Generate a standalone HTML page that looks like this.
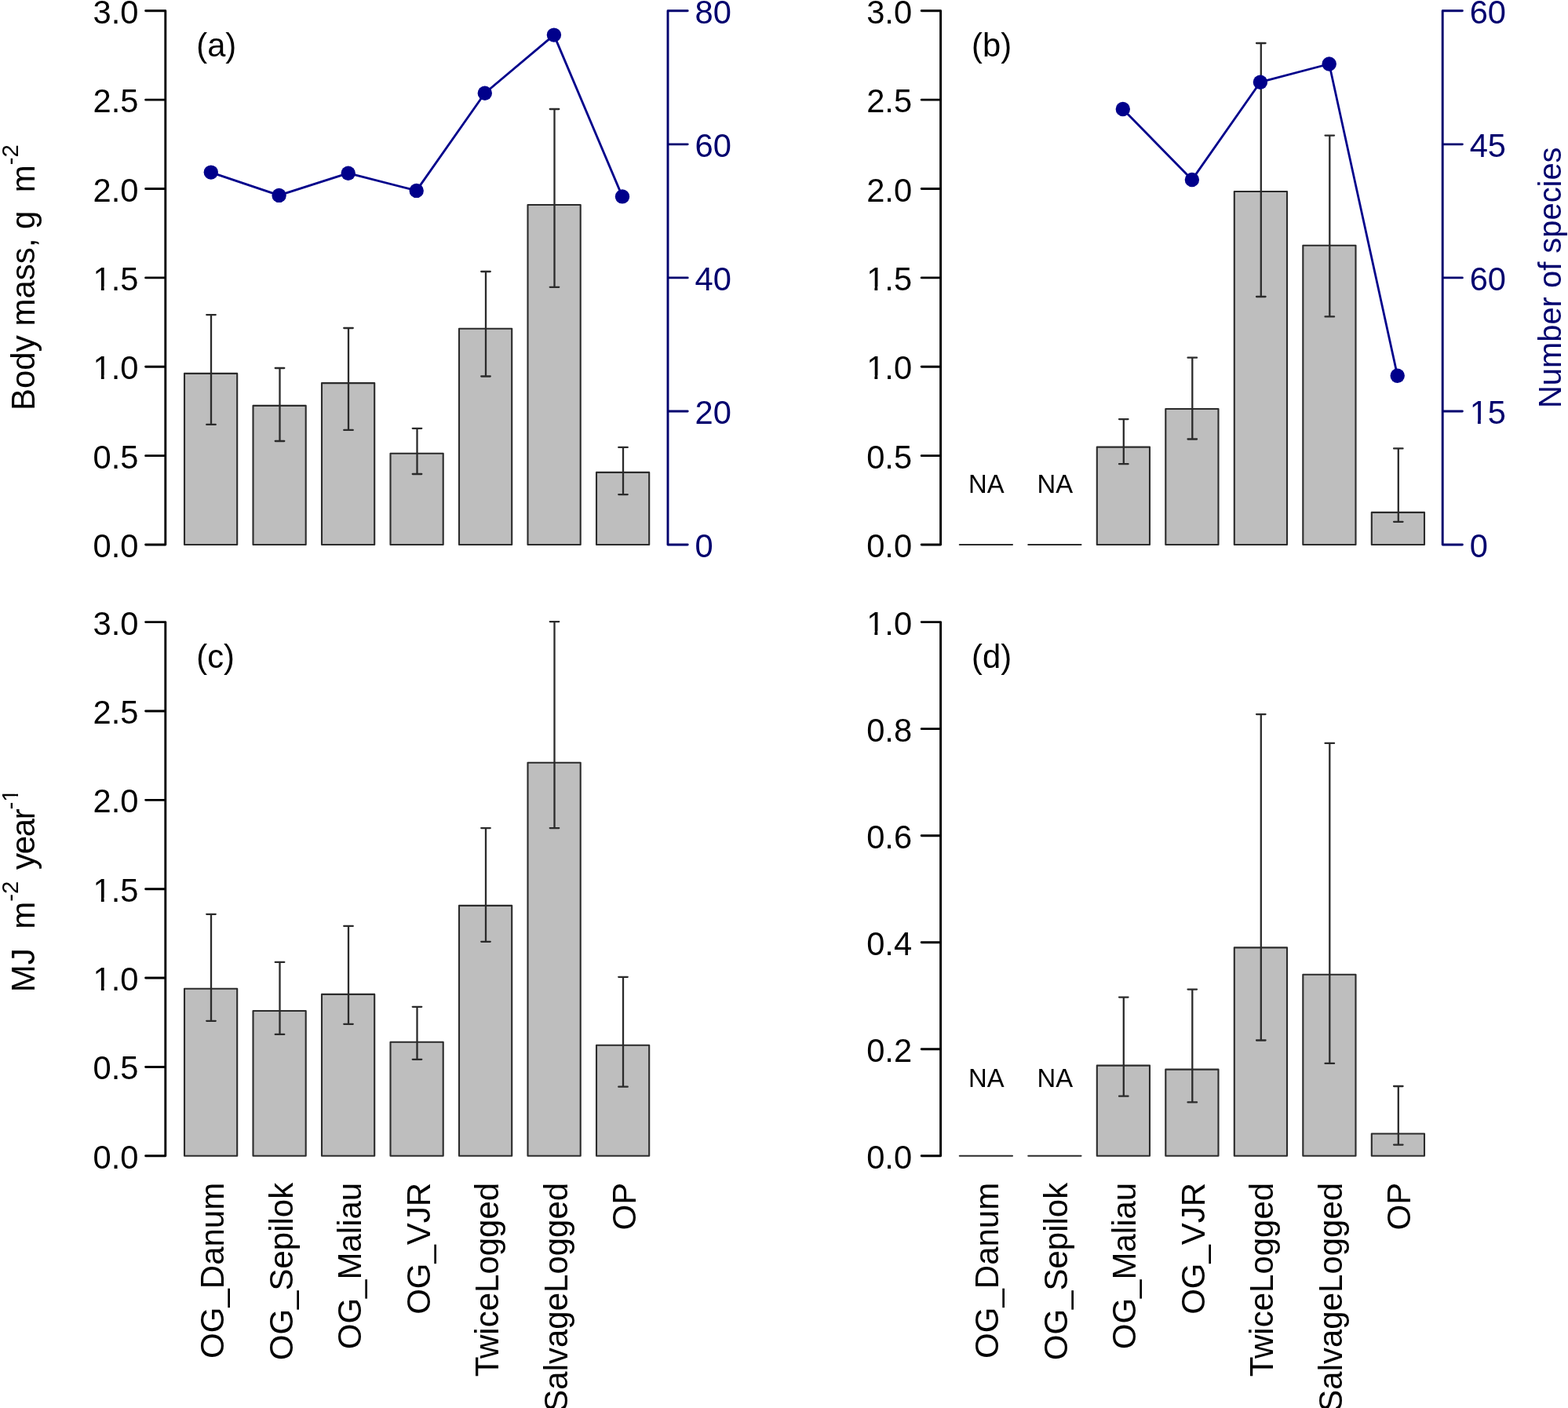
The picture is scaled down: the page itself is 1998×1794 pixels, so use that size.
<!DOCTYPE html><html><head><meta charset="utf-8"><title>Figure</title><style>
html,body{margin:0;padding:0;background:#fff;width:1998px;height:1794px;overflow:hidden}
svg{display:block}
text{font-family:"Liberation Sans",Arial,sans-serif;font-size:41.67px;fill:#000}
.nv{fill:#00006e}
.na{font-size:32.8px}
.bar{fill:#bebebe;stroke:#2b2b2b;stroke-width:2.1;stroke-linejoin:round}
.bs{fill:none;stroke:#2b2b2b;stroke-width:2.1;stroke-linecap:round}
.eb{fill:none;stroke:#2b2b2b;stroke-width:2.3;stroke-linecap:round}
.rl{font-size:42px}
.ax{fill:none;stroke:#000;stroke-width:2.9;stroke-linecap:round;stroke-linejoin:round}
.axn{fill:none;stroke:#00006e;stroke-width:2.9;stroke-linecap:round;stroke-linejoin:round}
.ln{fill:none;stroke:#00008b;stroke-width:2.8;stroke-linecap:round;stroke-linejoin:round}
.pt{fill:#00008b}
</style></head><body>
<svg width="1998" height="1794" viewBox="0 0 1998 1794">
<rect width="1998" height="1794" fill="#fff"/>
<rect x="235" y="475.9" width="67.2" height="218.1" class="bar"/>
<rect x="322.5" y="516.9" width="67.2" height="177.1" class="bar"/>
<rect x="410" y="488.1" width="67.2" height="205.9" class="bar"/>
<rect x="497.5" y="577.8" width="67.2" height="116.2" class="bar"/>
<rect x="585" y="418.8" width="67.2" height="275.2" class="bar"/>
<rect x="672.5" y="261" width="67.2" height="433" class="bar"/>
<rect x="760" y="601.9" width="67.2" height="92.1" class="bar"/>
<path d="M269 401.1V540.9M263.25 401.1H274.75M263.25 540.9H274.75" class="eb"/>
<path d="M356.5 469V562M350.75 469H362.25M350.75 562H362.25" class="eb"/>
<path d="M444 418V547.9M438.25 418H449.75M438.25 547.9H449.75" class="eb"/>
<path d="M531.5 545.8V604M525.75 545.8H537.25M525.75 604H537.25" class="eb"/>
<path d="M619 346V479.5M613.25 346H624.75M613.25 479.5H624.75" class="eb"/>
<path d="M706.5 139V365.8M700.75 139H712.25M700.75 365.8H712.25" class="eb"/>
<path d="M794 569.9V630.1M788.25 569.9H799.75M788.25 630.1H799.75" class="eb"/>
<path d="M268.8 219.6 L355.6 248.9 L443.7 220.7 L530.7 242.9 L617.8 118.7 L705.9 44.6 L793 250.4" class="ln"/>
<circle cx="268.8" cy="219.6" r="9.2" class="pt"/>
<circle cx="355.6" cy="248.9" r="9.2" class="pt"/>
<circle cx="443.7" cy="220.7" r="9.2" class="pt"/>
<circle cx="530.7" cy="242.9" r="9.2" class="pt"/>
<circle cx="617.8" cy="118.7" r="9.2" class="pt"/>
<circle cx="705.9" cy="44.6" r="9.2" class="pt"/>
<circle cx="793" cy="250.4" r="9.2" class="pt"/>
<path d="M210.8 694V13.8M185.6 694H210.8M185.6 580.63H210.8M185.6 467.27H210.8M185.6 353.9H210.8M185.6 240.53H210.8M185.6 127.17H210.8M185.6 13.8H210.8" class="ax"/>
<text x="176.5" y="710" text-anchor="end">0.0</text>
<text x="176.5" y="596.63" text-anchor="end">0.5</text>
<text x="176.5" y="483.27" text-anchor="end">1.0</text>
<text x="176.5" y="369.9" text-anchor="end">1.5</text>
<text x="176.5" y="256.53" text-anchor="end">2.0</text>
<text x="176.5" y="143.17" text-anchor="end">2.5</text>
<text x="176.5" y="29.8" text-anchor="end">3.0</text>
<path d="M851 694V13.8M851 694H876.2M851 523.95H876.2M851 353.9H876.2M851 183.85H876.2M851 13.8H876.2" class="axn"/>
<text x="885.5" y="710" class="nv">0</text>
<text x="885.5" y="539.95" class="nv">20</text>
<text x="885.5" y="369.9" class="nv">40</text>
<text x="885.5" y="199.85" class="nv">60</text>
<text x="885.5" y="29.8" class="nv">80</text>
<text x="250.3" y="72">(a)</text>
<text transform="translate(44.4 523) rotate(-90)" class="rl">Body mass, g<tspan dx="23.2">m</tspan><tspan dy="-21.7" style="font-size:29.4px">-2</tspan></text>
<line x1="1222.8" y1="694" x2="1290" y2="694" class="bs"/>
<line x1="1310.3" y1="694" x2="1377.5" y2="694" class="bs"/>
<rect x="1397.8" y="569.6" width="67.2" height="124.4" class="bar"/>
<rect x="1485.3" y="521" width="67.2" height="173" class="bar"/>
<rect x="1572.8" y="244" width="67.2" height="450" class="bar"/>
<rect x="1660.3" y="312.7" width="67.2" height="381.3" class="bar"/>
<rect x="1747.8" y="652.9" width="67.2" height="41.1" class="bar"/>
<path d="M1431.8 534.1V591.2M1426.05 534.1H1437.55M1426.05 591.2H1437.55" class="eb"/>
<path d="M1519.3 455.7V559.5M1513.55 455.7H1525.05M1513.55 559.5H1525.05" class="eb"/>
<path d="M1606.8 55V378M1601.05 55H1612.55M1601.05 378H1612.55" class="eb"/>
<path d="M1694.3 172.6V403.4M1688.55 172.6H1700.05M1688.55 403.4H1700.05" class="eb"/>
<path d="M1781.8 571.4V664.8M1776.05 571.4H1787.55M1776.05 664.8H1787.55" class="eb"/>
<path d="M1430.8 139 L1518.9 229 L1605.9 104.7 L1693.7 81.5 L1780.7 478.8" class="ln"/>
<circle cx="1430.8" cy="139" r="9.2" class="pt"/>
<circle cx="1518.9" cy="229" r="9.2" class="pt"/>
<circle cx="1605.9" cy="104.7" r="9.2" class="pt"/>
<circle cx="1693.7" cy="81.5" r="9.2" class="pt"/>
<circle cx="1780.7" cy="478.8" r="9.2" class="pt"/>
<path d="M1198.6 694V13.8M1174.2 694H1198.6M1174.2 580.63H1198.6M1174.2 467.27H1198.6M1174.2 353.9H1198.6M1174.2 240.53H1198.6M1174.2 127.17H1198.6M1174.2 13.8H1198.6" class="ax"/>
<text x="1162.1" y="710" text-anchor="end">0.0</text>
<text x="1162.1" y="596.63" text-anchor="end">0.5</text>
<text x="1162.1" y="483.27" text-anchor="end">1.0</text>
<text x="1162.1" y="369.9" text-anchor="end">1.5</text>
<text x="1162.1" y="256.53" text-anchor="end">2.0</text>
<text x="1162.1" y="143.17" text-anchor="end">2.5</text>
<text x="1162.1" y="29.8" text-anchor="end">3.0</text>
<path d="M1838.2 694V13.8M1838.2 694H1863.4M1838.2 523.95H1863.4M1838.2 353.9H1863.4M1838.2 183.85H1863.4M1838.2 13.8H1863.4" class="axn"/>
<text x="1872.7" y="710" class="nv">0</text>
<text x="1872.7" y="539.95" class="nv">15</text>
<text x="1872.7" y="369.9" class="nv">60</text>
<text x="1872.7" y="199.85" class="nv">45</text>
<text x="1872.7" y="29.8" class="nv">60</text>
<text x="1238.1" y="72">(b)</text>
<text x="1256.9" y="628.1" text-anchor="middle" class="na">NA</text>
<text x="1344.4" y="628.1" text-anchor="middle" class="na">NA</text>
<text transform="translate(1988.8 520) rotate(-90)" class="nv" style="font-size:39.9px">Number of species</text>
<rect x="235" y="1259.7" width="67.2" height="213.1" class="bar"/>
<rect x="322.5" y="1288" width="67.2" height="184.8" class="bar"/>
<rect x="410" y="1266.9" width="67.2" height="205.9" class="bar"/>
<rect x="497.5" y="1327.8" width="67.2" height="145" class="bar"/>
<rect x="585" y="1153.9" width="67.2" height="318.9" class="bar"/>
<rect x="672.5" y="971.8" width="67.2" height="501" class="bar"/>
<rect x="760" y="1331.8" width="67.2" height="141" class="bar"/>
<path d="M269 1164.8V1300.8M263.25 1164.8H274.75M263.25 1300.8H274.75" class="eb"/>
<path d="M356.5 1225.9V1317.9M350.75 1225.9H362.25M350.75 1317.9H362.25" class="eb"/>
<path d="M444 1179.9V1304.8M438.25 1179.9H449.75M438.25 1304.8H449.75" class="eb"/>
<path d="M531.5 1282.8V1349.8M525.75 1282.8H537.25M525.75 1349.8H537.25" class="eb"/>
<path d="M619 1055.1V1199.8M613.25 1055.1H624.75M613.25 1199.8H624.75" class="eb"/>
<path d="M706.5 792.1V1055.1M700.75 792.1H712.25M700.75 1055.1H712.25" class="eb"/>
<path d="M794 1244.8V1384.7M788.25 1244.8H799.75M788.25 1384.7H799.75" class="eb"/>
<path d="M210.8 1472.8V792.6M185.6 1472.8H210.8M185.6 1359.43H210.8M185.6 1246.07H210.8M185.6 1132.7H210.8M185.6 1019.33H210.8M185.6 905.97H210.8M185.6 792.6H210.8" class="ax"/>
<text x="176.5" y="1488.8" text-anchor="end">0.0</text>
<text x="176.5" y="1375.43" text-anchor="end">0.5</text>
<text x="176.5" y="1262.07" text-anchor="end">1.0</text>
<text x="176.5" y="1148.7" text-anchor="end">1.5</text>
<text x="176.5" y="1035.33" text-anchor="end">2.0</text>
<text x="176.5" y="921.97" text-anchor="end">2.5</text>
<text x="176.5" y="808.6" text-anchor="end">3.0</text>
<text x="250.3" y="850.8">(c)</text>
<text transform="translate(44.3 1264.3) rotate(-90)" class="rl">MJ<tspan dx="24.5">m</tspan><tspan dy="-21.7" style="font-size:29.4px">-2</tspan><tspan dy="21.7" dx="14.7" style="letter-spacing:-1.3px">year</tspan><tspan dy="-21.7" style="font-size:29.4px">-1</tspan></text>
<text transform="translate(285.2 1506.8) rotate(-90)" text-anchor="end" class="rl">OG_Danum</text>
<text transform="translate(372.7 1506.8) rotate(-90)" text-anchor="end" class="rl">OG_Sepilok</text>
<text transform="translate(460.2 1506.8) rotate(-90)" text-anchor="end" class="rl">OG_Maliau</text>
<text transform="translate(547.7 1506.8) rotate(-90)" text-anchor="end" class="rl">OG_VJR</text>
<text transform="translate(635.2 1506.8) rotate(-90)" text-anchor="end" class="rl">TwiceLogged</text>
<text transform="translate(722.7 1506.8) rotate(-90)" text-anchor="end" class="rl">SalvageLogged</text>
<text transform="translate(810.2 1506.8) rotate(-90)" text-anchor="end" class="rl">OP</text>
<line x1="1222.8" y1="1472.8" x2="1290" y2="1472.8" class="bs"/>
<line x1="1310.3" y1="1472.8" x2="1377.5" y2="1472.8" class="bs"/>
<rect x="1397.8" y="1357.6" width="67.2" height="115.2" class="bar"/>
<rect x="1485.3" y="1362.6" width="67.2" height="110.2" class="bar"/>
<rect x="1572.8" y="1207.4" width="67.2" height="265.4" class="bar"/>
<rect x="1660.3" y="1241.8" width="67.2" height="231" class="bar"/>
<rect x="1747.8" y="1444.5" width="67.2" height="28.3" class="bar"/>
<path d="M1431.8 1270.6V1396.7M1426.05 1270.6H1437.55M1426.05 1396.7H1437.55" class="eb"/>
<path d="M1519.3 1260.6V1404.4M1513.55 1260.6H1525.05M1513.55 1404.4H1525.05" class="eb"/>
<path d="M1606.8 910.1V1325.5M1601.05 910.1H1612.55M1601.05 1325.5H1612.55" class="eb"/>
<path d="M1694.3 946.9V1354.9M1688.55 946.9H1700.05M1688.55 1354.9H1700.05" class="eb"/>
<path d="M1781.8 1384V1458.6M1776.05 1384H1787.55M1776.05 1458.6H1787.55" class="eb"/>
<path d="M1198.6 1472.8V792.6M1174.2 1472.8H1198.6M1174.2 1336.76H1198.6M1174.2 1200.72H1198.6M1174.2 1064.68H1198.6M1174.2 928.64H1198.6M1174.2 792.6H1198.6" class="ax"/>
<text x="1162.1" y="1488.8" text-anchor="end">0.0</text>
<text x="1162.1" y="1352.76" text-anchor="end">0.2</text>
<text x="1162.1" y="1216.72" text-anchor="end">0.4</text>
<text x="1162.1" y="1080.68" text-anchor="end">0.6</text>
<text x="1162.1" y="944.64" text-anchor="end">0.8</text>
<text x="1162.1" y="808.6" text-anchor="end">1.0</text>
<text x="1238.1" y="850.8">(d)</text>
<text x="1256.9" y="1384.9" text-anchor="middle" class="na">NA</text>
<text x="1344.4" y="1384.9" text-anchor="middle" class="na">NA</text>
<text transform="translate(1272.2 1506.8) rotate(-90)" text-anchor="end" class="rl">OG_Danum</text>
<text transform="translate(1359.7 1506.8) rotate(-90)" text-anchor="end" class="rl">OG_Sepilok</text>
<text transform="translate(1447.2 1506.8) rotate(-90)" text-anchor="end" class="rl">OG_Maliau</text>
<text transform="translate(1534.7 1506.8) rotate(-90)" text-anchor="end" class="rl">OG_VJR</text>
<text transform="translate(1622.2 1506.8) rotate(-90)" text-anchor="end" class="rl">TwiceLogged</text>
<text transform="translate(1709.7 1506.8) rotate(-90)" text-anchor="end" class="rl">SalvageLogged</text>
<text transform="translate(1797.2 1506.8) rotate(-90)" text-anchor="end" class="rl">OP</text>
<g fill="#fff"><rect x="119.83" y="478.35" width="9" height="5.83"/><rect x="132.66" y="478.35" width="8.75" height="5.83"/><rect x="119.83" y="364.98" width="9" height="5.83"/><rect x="132.66" y="364.98" width="8.75" height="5.83"/><rect x="1105.43" y="478.35" width="9" height="5.83"/><rect x="1118.26" y="478.35" width="8.75" height="5.83"/><rect x="1105.43" y="364.98" width="9" height="5.83"/><rect x="1118.26" y="364.98" width="8.75" height="5.83"/><rect x="1873.95" y="535.03" width="9" height="5.83"/><rect x="1886.78" y="535.03" width="8.75" height="5.83"/><rect x="119.83" y="1257.15" width="9" height="5.83"/><rect x="132.66" y="1257.15" width="8.75" height="5.83"/><rect x="119.83" y="1143.78" width="9" height="5.83"/><rect x="132.66" y="1143.78" width="8.75" height="5.83"/><g transform="translate(44.3 1264.3) rotate(-90)"><rect x="243.52" y="-25.17" width="6.35" height="4.12"/><rect x="252.57" y="-25.17" width="6.17" height="4.12"/></g><rect x="1105.43" y="803.68" width="9" height="5.83"/><rect x="1118.26" y="803.68" width="8.75" height="5.83"/></g></svg></body></html>
